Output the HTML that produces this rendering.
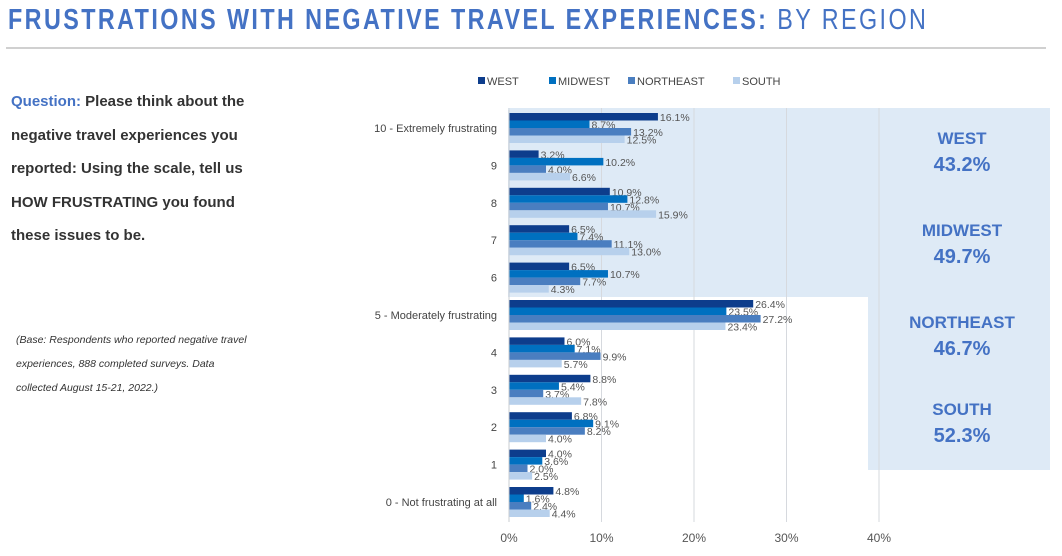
<!DOCTYPE html>
<html><head><meta charset="utf-8"><style>
body{margin:0;width:1062px;height:556px;background:#fff;overflow:hidden;font-family:"Liberation Sans",sans-serif;position:relative}
#title{position:absolute;left:8px;top:4px;font-size:29px;letter-spacing:3px;color:#4472c4;white-space:nowrap;transform-origin:0 0}
#title b{font-weight:bold}
#title span{font-weight:normal}
#rule{position:absolute;left:6px;top:47px;width:1040px;height:2px;background:#d0d0d0}
#q{position:absolute;left:11px;top:85px;width:300px;font-size:15px;font-weight:bold;line-height:33.5px;color:#333;white-space:nowrap}
#q .lab{color:#4472c4}
#base{position:absolute;left:16px;top:328px;width:300px;font-size:10.5px;font-style:italic;line-height:24px;color:#333;white-space:nowrap}
</style></head><body>
<div id="title"><b>FRUSTRATIONS WITH NEGATIVE TRAVEL EXPERIENCES:</b> <span>BY REGION</span></div>
<div id="rule"></div>
<div id="q"><span class="lab">Question:</span> Please think about the<br>negative travel experiences you<br>reported: Using the scale, tell us<br>HOW FRUSTRATING you found<br>these issues to be.</div>
<div id="base">(Base: Respondents who reported negative travel<br>experiences, 888 completed surveys. Data<br>collected August 15-21, 2022.)</div>
<svg id="chart" width="1062" height="556" style="position:absolute;left:0;top:0"></svg>
<script>
const categories=["10 - Extremely frustrating","9","8","7","6","5 - Moderately frustrating","4","3","2","1","0 - Not frustrating at all"];
const seriesNames=["WEST","MIDWEST","NORTHEAST","SOUTH"];
const west=[16.1,3.2,10.9,6.5,6.5,26.4,6.0,8.8,6.8,4.0,4.8];
const midwest=[8.7,10.2,12.8,7.4,10.7,23.5,7.1,5.4,9.1,3.6,1.6];
const northeast=[13.2,4.0,10.7,11.1,7.7,27.2,9.9,3.7,8.2,2.0,2.4];
const south=[12.5,6.6,15.9,13.0,4.3,23.4,5.7,7.8,4.0,2.5,4.4];
const xTicks=[0,10,20,30,40];
const totalNames=["WEST","MIDWEST","NORTHEAST","SOUTH"];
const totalValues=[43.2,49.7,46.7,52.3];

const ttl=document.getElementById('title');
ttl.style.transform='scaleX('+(920/ttl.scrollWidth)+')';

const colors=["#0d3d8c","#0070c0","#4a7ec0","#b7d0ec"];
const series=[west,midwest,northeast,south];
const NS="http://www.w3.org/2000/svg";
const svg=document.getElementById('chart');
const x0=509,pxPer=9.25;
const X=v=>x0+v*pxPer;
const gTop=113,gStep=37.4,barH=7.5;
const Y=i=>gTop+i*gStep;
function mk(tag,attrs,parent){const e=document.createElementNS(NS,tag);for(const k in attrs)e.setAttribute(k,attrs[k]);(parent||svg).appendChild(e);return e;}

let bg=mk('path',{d:"M508 108 H1050 V470 H868 V297 H508 Z",fill:"#deeaf6"});



xTicks.forEach(t=>{
  const l=mk('line',{x1:X(t),x2:X(t),y1:108,y2:522,stroke:"#d6d9de","stroke-width":1});
  
  
  const tx=mk('text',{x:X(t),y:542,"text-anchor":"middle","font-size":12,fill:"#555"});
  tx.textContent=t+'%';
  
  
});

categories.forEach((c,i)=>{
  const lab=mk('text',{x:497,y:Y(i)+19,"text-anchor":"end","font-size":11,fill:"#444"});
  lab.textContent=c;
  
  
  series.forEach((s,j)=>{
    const y=Y(i)+j*barH;
    const r=mk('rect',{x:x0,y:y,width:X(s[i])-x0,height:barH,fill:colors[j]});
    
    
    const t=mk('text',{x:X(s[i])+2,y:y+8,"font-size":10.5,fill:"#555"});
    t.textContent=s[i].toFixed(1)+'%';
    
    
  });
});
mk('line',{x1:x0,x2:x0,y1:110,y2:522,stroke:"#c8ccd2","stroke-width":1});

const legX=[478,549,628,733];
seriesNames.forEach((n,j)=>{
  const r=mk('rect',{x:legX[j],y:77,width:7,height:7,fill:colors[j]});
  
  
  const t=mk('text',{x:legX[j]+9,y:85,"font-size":11,fill:"#444"});
  t.textContent=n;
  
  
});

totalNames.forEach((n,k)=>{
  const cy=[138,230,322,409][k];
  const a=mk('text',{x:962,y:cy+6,"text-anchor":"middle","font-size":17,"font-weight":"bold",fill:"#4472c4"});
  a.textContent=n;
  
  
  const b=mk('text',{x:962,y:cy+33,"text-anchor":"middle","font-size":20,"font-weight":"bold",fill:"#4472c4"});
  b.textContent=totalValues[k].toFixed(1)+'%';
  
  
});
</script>
</body></html>
